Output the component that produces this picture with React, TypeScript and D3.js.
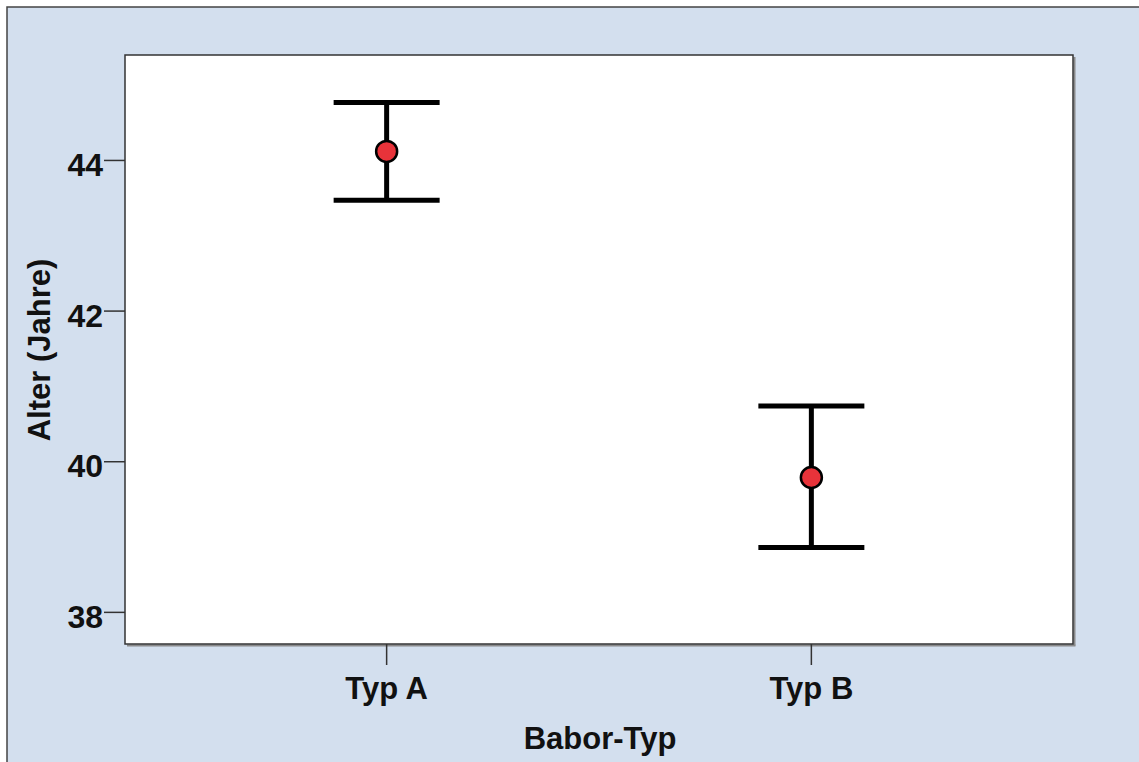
import React from "react";
import * as d3 from "d3";

const categories = ["Typ A", "Typ B"];
const means = [44.12, 39.79];
const upper = [44.77, 40.74];
const lower = [43.47, 38.86];
const yTicks = [38, 40, 42, 44];
const xTitle = "Babor-Typ";
const yTitle = "Alter (Jahre)";

const W = 1139;
const H = 762;
const M = { left: 125, right: 1073, top: 55, bottom: 644 };
const FONT = "'Liberation Sans', Arial, sans-serif";

export default function App() {
  const x = d3
    .scalePoint<string>()
    .domain(categories)
    .range([M.left, M.right])
    .padding(0.616);
  const y = d3.scaleLinear().domain([37.58, 45.4]).range([M.bottom, M.top]);
  const capHalf = 53;

  return (
    <div style={{ position: "absolute", left: 0, top: 0 }}>
      <svg width={W} height={H} style={{ display: "block" }}>
        <rect x={0} y={0} width={W} height={H} fill="#ffffff" />
        <rect x={7} y={7} width={W + 10} height={H + 10} fill="#d3dfee" stroke="#444" strokeWidth={1.5} />
        {/* plot frame shadow */}
        <line x1={M.right + 1.5} y1={M.top + 2} x2={M.right + 1.5} y2={M.bottom + 1.5} stroke="#8a8a8a" strokeWidth={2} />
        <line x1={M.left + 2} y1={M.bottom + 1.5} x2={M.right + 2.5} y2={M.bottom + 1.5} stroke="#8a8a8a" strokeWidth={2} />
        <rect x={M.left} y={M.top} width={M.right - M.left} height={M.bottom - M.top} fill="#ffffff" stroke="#333" strokeWidth={1.5} />
        {yTicks.map((t) => (
          <g key={t}>
            <line x1={M.left - 21} x2={M.left} y1={y(t)} y2={y(t)} stroke="#333" strokeWidth={1.5} />
            <text x={M.left - 22} y={y(t)} dy={15.5} textAnchor="end" fontFamily={FONT} fontWeight="bold" fontSize={32} fill="#111">
              {t}
            </text>
          </g>
        ))}
        {categories.map((c) => (
          <g key={c}>
            <line x1={x(c)} x2={x(c)} y1={M.bottom} y2={M.bottom + 21} stroke="#333" strokeWidth={1.5} />
            <text x={x(c)} y={699} textAnchor="middle" fontFamily={FONT} fontWeight="bold" fontSize={31} fill="#111">
              {c}
            </text>
          </g>
        ))}
        {categories.map((c, i) => {
          const cx = x(c) as number;
          return (
            <g key={"e" + c}>
              <line x1={cx} x2={cx} y1={y(upper[i])} y2={y(lower[i])} stroke="#000" strokeWidth={5} />
              <line x1={cx - capHalf} x2={cx + capHalf} y1={y(upper[i])} y2={y(upper[i])} stroke="#000" strokeWidth={5} />
              <line x1={cx - capHalf} x2={cx + capHalf} y1={y(lower[i])} y2={y(lower[i])} stroke="#000" strokeWidth={5} />
              <circle cx={cx} cy={y(means[i])} r={10.5} fill="#e8333a" stroke="#000" strokeWidth={2.5} />
            </g>
          );
        })}
        <text x={600} y={749} textAnchor="middle" fontFamily={FONT} fontWeight="bold" fontSize={31} fill="#111">
          {xTitle}
        </text>
        <text
          transform={`translate(50,350) rotate(-90)`}
          textAnchor="middle"
          fontFamily={FONT}
          fontWeight="bold"
          fontSize={31}
          fill="#111"
        >
          {yTitle}
        </text>
      </svg>
    </div>
  );
}
